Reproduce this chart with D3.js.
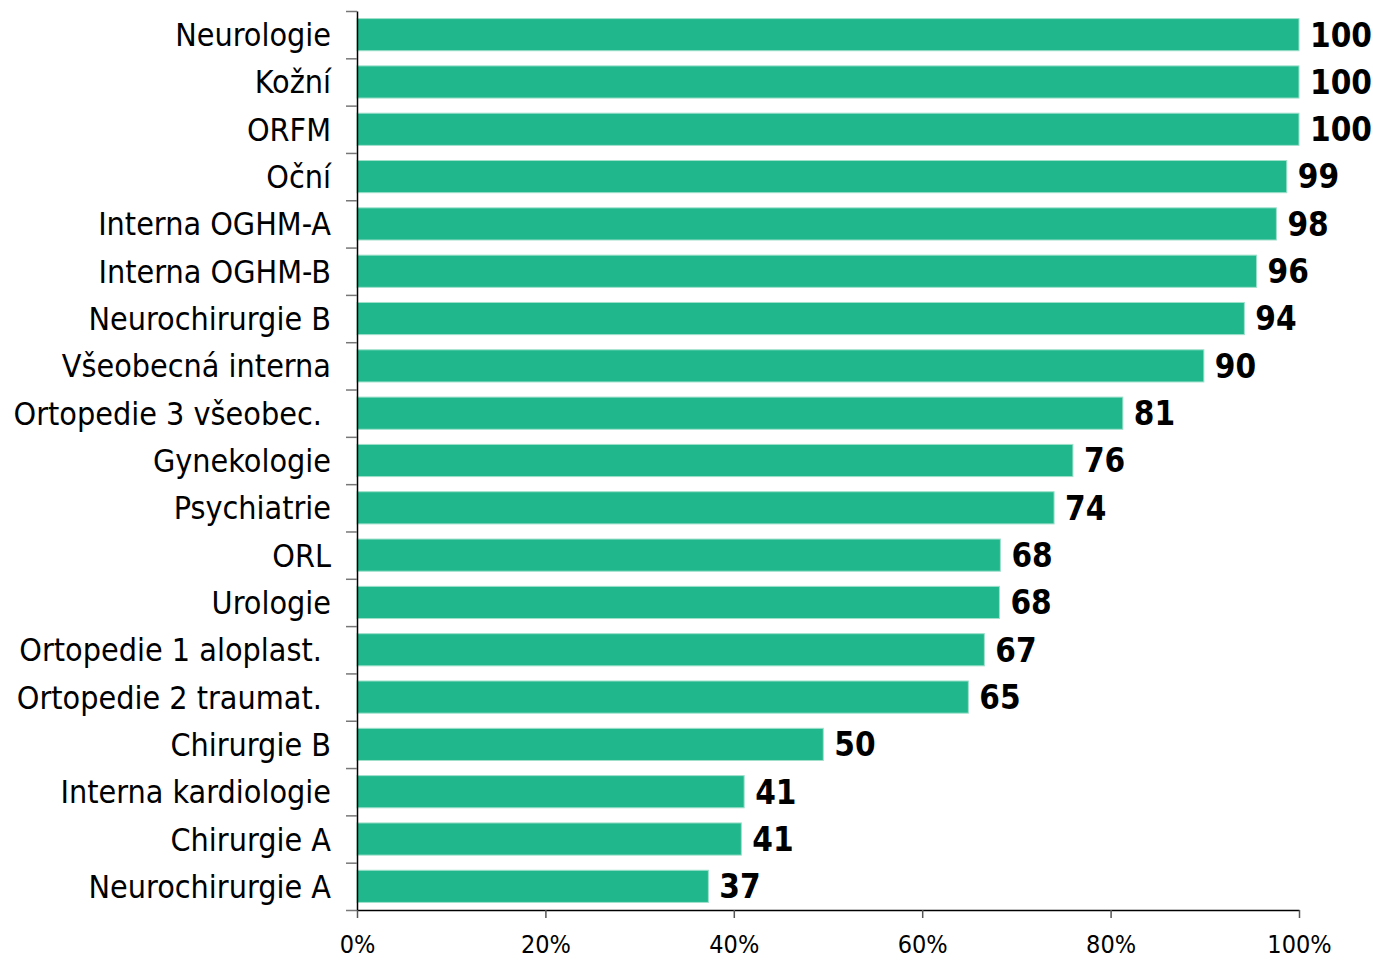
<!DOCTYPE html>
<html>
<head>
<meta charset="utf-8">
<script src="https://cdn.jsdelivr.net/npm/d3@7"></script>
<style>
  body { margin: 0; background: #fff; }
  svg text { font-family: "DejaVu Sans Condensed", "DejaVu Sans", sans-serif; font-stretch: condensed; }
</style>
</head>
<body>
<div id="chart"></div>
<script>
// categories top to bottom (trailing space kept as in the original labels)
const categories = [
	"Neurologie", "Kožní", "ORFM", "Oční", "Interna OGHM-A", "Interna OGHM-B",
	"Neurochirurgie B", "Všeobecná interna", "Ortopedie 3 všeobec. ", "Gynekologie",
	"Psychiatrie", "ORL", "Urologie", "Ortopedie 1 aloplast. ", "Ortopedie 2 traumat. ",
	"Chirurgie B", "Interna kardiologie", "Chirurgie A", "Neurochirurgie A"
];
// percent values (labels show them rounded)
const values = [
	100, 100, 100, 98.7, 97.6, 95.5, 94.2, 89.9, 81.3, 76.0,
	74.0, 68.3, 68.2, 66.6, 64.9, 49.5, 41.1, 40.8, 37.3
];
const xTicks = [0, 20, 40, 60, 80, 100];

const W = 1373, H = 960;
const margin = { top: 11, right: 74, bottom: 50, left: 357 };
const width = W - margin.left - margin.right,
	height = H - margin.top - margin.bottom;

const svg = d3.select("#chart")
	.append("svg")
	.attr("width", W)
	.attr("height", H)
	.append("g")
	.attr("transform", `translate(${margin.left}, ${margin.top})`);

const x = d3.scaleLinear().domain([0, 100]).range([0, width]);
const y = d3.scaleBand().domain(categories).range([0, height])
	.paddingInner(0.32).paddingOuter(0.16);
// boundaries between categories, for the tick marks on the left axis
const yEdge = d3.scaleLinear().domain([0, categories.length]).range([0, height]);

// bars
svg.selectAll("rect.bar")
	.data(values)
	.join("rect")
	.attr("class", "bar")
	.attr("x", x(0))
	.attr("y", (d, i) => y(categories[i]))
	.attr("width", d => x(d) - x(0))
	.attr("height", y.bandwidth())
	.attr("fill", "#20b78c")
	.attr("stroke", "#9fe0cb")
	.attr("stroke-width", 1);

// value labels
svg.selectAll("text.val")
	.data(values)
	.join("text")
	.attr("class", "val")
	.attr("x", d => x(d) + 11)
	.attr("y", (d, i) => y(categories[i]) + y.bandwidth() / 2)
	.attr("dy", "0.36em")
	.attr("font-size", "33px")
	.attr("font-weight", "bold")
	.attr("fill", "#000")
	.text(d => Math.round(d));

// category labels
svg.selectAll("text.cat")
	.data(categories)
	.join("text")
	.attr("class", "cat")
	.attr("x", -26)
	.attr("y", d => y(d) + y.bandwidth() / 2)
	.attr("dy", "0.36em")
	.attr("text-anchor", "end")
	.attr("font-size", "32px")
	.attr("fill", "#000")
	.style("white-space", "pre")
	.text(d => d);

// left axis: boundary ticks
const yAxis = svg.append("g")
	.call(d3.axisLeft(yEdge).tickValues(d3.range(categories.length + 1)).tickFormat("").tickSize(11).tickSizeOuter(0));
yAxis.select(".domain").attr("stroke", "#000").attr("stroke-width", 1.5);
yAxis.selectAll(".tick line").attr("stroke", "#777").attr("stroke-width", 1.5);

// bottom axis
const xAxis = svg.append("g")
	.attr("transform", `translate(0, ${height})`)
	.call(d3.axisBottom(x).tickValues(xTicks).tickFormat(d => d + "%").tickSize(8).tickSizeOuter(0).tickPadding(17));
xAxis.select(".domain").attr("stroke", "#000").attr("stroke-width", 1.5);
xAxis.selectAll(".tick line").attr("stroke", "#555").attr("stroke-width", 1.5);
xAxis.selectAll(".tick text")
	.attr("font-size", "25px")
	.attr("fill", "#000")
	.attr("font-family", "\"DejaVu Sans Condensed\", \"DejaVu Sans\", sans-serif");
</script>
</body>
</html>
